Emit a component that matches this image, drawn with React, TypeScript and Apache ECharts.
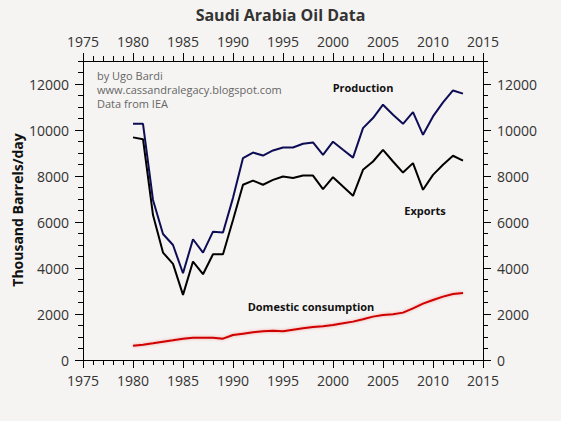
import React, { useEffect, useRef } from "react";
import * as echarts from "echarts";

const years = [
  1980, 1981, 1982, 1983, 1984, 1985, 1986, 1987, 1988, 1989,
  1990, 1991, 1992, 1993, 1994, 1995, 1996, 1997, 1998, 1999,
  2000, 2001, 2002, 2003, 2004, 2005, 2006, 2007, 2008, 2009,
  2010, 2011, 2012, 2013,
];
const production = [
  10270, 10270, 6960, 5480, 5000, 3770, 5250, 4670, 5580, 5540,
  7050, 8780, 9020, 8890, 9110, 9240, 9240, 9400, 9460, 8920,
  9490, 9140, 8800, 10080, 10520, 11100, 10660, 10270, 10780, 9790,
  10590, 11200, 11720, 11580,
];
const exportsData = [
  9680, 9600, 6300, 4670, 4180, 2830, 4280, 3730, 4600, 4600,
  6090, 7620, 7800, 7620, 7830, 7980, 7910, 8020, 8020, 7430,
  7950, 7540, 7140, 8270, 8630, 9140, 8630, 8150, 8560, 7400,
  8050, 8490, 8880, 8670,
];
const consumption = [
  622, 667, 725, 797, 855, 928, 972, 972, 972, 928,
  1088, 1146, 1204, 1247, 1276, 1247, 1320, 1378, 1436, 1465,
  1523, 1595, 1668, 1770, 1886, 1958, 1987, 2060, 2248, 2451,
  2611, 2756, 2872, 2916,
];
const yMajorTicks = [0, 2000, 4000, 6000, 8000, 10000, 12000];
const xMin = 1975;
const xMax = 2015;
const yMin = 0;
const yMax = 13000;

const FONT = "'Open Sans', 'DejaVu Sans', sans-serif";
const TEXT = "#333333";

export default function App() {
  const ref = useRef<HTMLDivElement>(null);
  useEffect(() => {
    document.body.style.margin = "0";
    if (!ref.current) return;
    const chart = echarts.init(ref.current, null, { renderer: "svg" });
    const pair = (arr: number[]) => years.map((y, i) => [y, arr[i]]);

    const xAxisBase = (position: string) => ({
      type: "value",
      position,
      min: xMin,
      max: xMax,
      interval: 5,
      axisLine: { show: true, onZero: false, lineStyle: { color: "#000", width: 1 } },
      axisTick: { show: true, inside: false, length: 8, lineStyle: { color: "#000", width: 1 } },
      minorTick: { show: true, splitNumber: 5, length: 5, lineStyle: { color: "#000", width: 1 } },
      splitLine: { show: false },
      minorSplitLine: { show: false },
      axisLabel: {
        margin: 13,
        fontSize: 14,
        color: TEXT,
        fontFamily: FONT,
        formatter: (v: number) => String(v),
      },
    });

    const yMajor = (position: string) => ({
      type: "value",
      position,
      min: yMin,
      max: yMax,
      interval: 2000,
      axisLine: { show: true, onZero: false, lineStyle: { color: "#000", width: 1 } },
      axisTick: {
        show: true,
        inside: false,
        length: 8,
        customValues: yMajorTicks,
        lineStyle: { color: "#000", width: 1 },
      },
      splitLine: { show: false },
      axisLabel: {
        margin: 14,
        fontSize: 14,
        color: TEXT,
        fontFamily: FONT,
        customValues: yMajorTicks,
        formatter: (v: number) => (v % 2000 === 0 ? String(v) : ""),
      },
    });

    const yMinor = (position: string) => ({
      type: "value",
      position,
      min: yMin,
      max: yMax,
      interval: 500,
      axisLine: { show: false, onZero: false },
      axisTick: { show: true, inside: false, length: 5, lineStyle: { color: "#000", width: 1 } },
      splitLine: { show: false },
      axisLabel: { show: false },
    });

    chart.setOption({
      animation: false,
      backgroundColor: "#f5f4f2",
      grid: { left: 83, right: 78, top: 61, bottom: 61 },
      title: {
        text: "Saudi Arabia Oil Data",
        left: "center",
        top: 2,
        textStyle: { fontSize: 16, fontWeight: "bold", color: TEXT, fontFamily: FONT },
      },
      xAxis: [xAxisBase("bottom"), xAxisBase("top")],
      yAxis: [yMajor("left"), yMinor("left"), yMajor("right"), yMinor("right")],
      series: [
        {
          name: "Production",
          type: "line",
          data: pair(production),
          showSymbol: false,
          lineStyle: { color: "#0d0d55", width: 2 },
          itemStyle: { color: "#0d0d55" },
        },
        {
          name: "Exports",
          type: "line",
          data: pair(exportsData),
          showSymbol: false,
          lineStyle: { color: "#000000", width: 2 },
          itemStyle: { color: "#000000" },
        },
        {
          name: "Domestic consumption",
          type: "line",
          data: pair(consumption),
          showSymbol: false,
          lineStyle: {
            color: "#d00000",
            width: 2,
            shadowColor: "rgba(230,0,0,0.35)",
            shadowBlur: 3,
          },
          itemStyle: { color: "#d00000" },
        },
      ],
      graphic: [
        {
          type: "text",
          x: 17,
          y: 210,
          rotation: Math.PI / 2,
          style: {
            text: "Thousand Barrels/day",
            align: "center",
            verticalAlign: "middle",
            font: `bold 14px ${FONT}`,
            fill: "#111",
          },
        },
        {
          type: "text",
          x: 97,
          y: 68,
          style: {
            text: "by Ugo Bardi\nwww.cassandralegacy.blogspot.com\nData from IEA",
            align: "left",
            verticalAlign: "top",
            lineHeight: 14,
            font: `11px ${FONT}`,
            fill: "#666",
          },
        },
        {
          type: "text",
          x: 363,
          y: 87,
          style: {
            text: "Production",
            align: "center",
            verticalAlign: "middle",
            font: `bold 11px ${FONT}`,
            fill: "#111",
          },
        },
        {
          type: "text",
          x: 425,
          y: 210,
          style: {
            text: "Exports",
            align: "center",
            verticalAlign: "middle",
            font: `bold 11px ${FONT}`,
            fill: "#111",
          },
        },
        {
          type: "text",
          x: 311,
          y: 306,
          style: {
            text: "Domestic consumption",
            align: "center",
            verticalAlign: "middle",
            font: `bold 11px ${FONT}`,
            fill: "#111",
          },
        },
      ],
    });
    return () => chart.dispose();
  }, []);
  return <div ref={ref} style={{ width: 561, height: 421 }} />;
}
